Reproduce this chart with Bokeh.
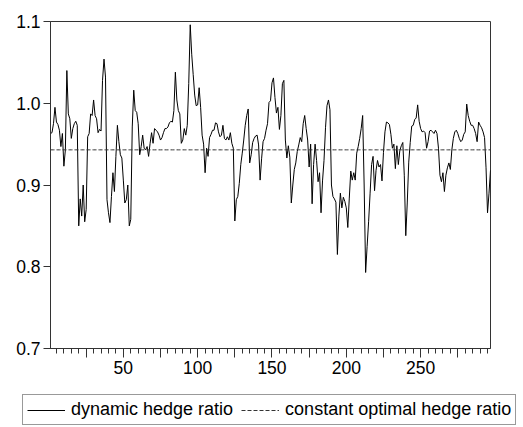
from bokeh.plotting import figure
from bokeh.models import FixedTicker, Range1d, Legend, LegendItem
from bokeh.embed import file_html
from bokeh.resources import INLINE

hedge = [
    0.963, 0.964, 0.975, 0.995, 0.977, 0.974, 0.967, 0.947, 0.963, 0.923,
    0.943, 1.040, 0.987, 0.981, 0.957, 0.969, 0.975, 0.978, 0.973, 0.850,
    0.883, 0.862, 0.900, 0.855, 0.870, 0.959, 0.963, 0.987, 0.985, 1.004,
    0.985, 0.981, 0.964, 0.968, 0.966, 1.028, 1.054, 1.032, 0.882, 0.866,
    0.854, 0.886, 0.915, 0.892, 0.935, 0.973, 0.953, 0.937, 0.933, 0.906,
    0.878, 0.882, 0.900, 0.850, 0.858, 0.971, 1.016, 0.991, 0.989, 0.975,
    0.937, 0.947, 0.961, 0.945, 0.943, 0.947, 0.935, 0.951, 0.964, 0.951,
    0.969, 0.967, 0.965, 0.961, 0.955, 0.958, 0.964, 0.969, 0.969, 0.971,
    0.976, 0.978, 0.977, 0.991, 1.038, 1.004, 0.991, 0.987, 0.951, 0.955,
    0.969, 0.961, 0.973, 1.024, 1.096, 1.060, 1.035, 1.010, 0.997, 0.998,
    1.019, 0.995, 0.961, 0.950, 0.915, 0.945, 0.935, 0.958, 0.962, 0.967,
    0.967, 0.976, 0.975, 0.965, 0.959, 0.961, 0.973, 0.957, 0.955, 0.959,
    0.955, 0.964, 0.951, 0.945, 0.856, 0.882, 0.886, 0.902, 0.925, 0.939,
    0.955, 0.973, 0.985, 0.993, 0.927, 0.937, 0.952, 0.957, 0.960, 0.961,
    0.949, 0.906, 0.932, 0.953, 0.957, 0.967, 0.975, 1.001, 1.003, 1.025,
    1.031, 1.007, 0.988, 0.995, 0.968, 0.985, 1.024, 1.028, 0.955, 0.933,
    0.948, 0.934, 0.878, 0.900, 0.919, 0.927, 0.941, 0.949, 0.958, 0.953,
    0.975, 0.985, 0.969, 0.955, 0.922, 0.950, 0.877, 0.925, 0.950, 0.930,
    0.904, 0.915, 0.866, 0.905, 0.930, 0.970, 0.997, 1.004, 0.992, 0.900,
    0.886, 0.883, 0.879, 0.815, 0.862, 0.890, 0.872, 0.885, 0.880, 0.872,
    0.848, 0.884, 0.917, 0.906, 0.915, 0.906, 0.939, 0.947, 0.957, 0.969,
    0.985, 0.900, 0.793, 0.825, 0.855, 0.890, 0.925, 0.935, 0.893, 0.918,
    0.930, 0.922, 0.925, 0.905, 0.940, 0.965, 0.977, 0.976, 0.974, 0.962,
    0.945, 0.950, 0.920, 0.948, 0.925, 0.942, 0.948, 0.952, 0.912, 0.838,
    0.878, 0.928, 0.952, 0.972, 0.973, 0.980, 0.982, 0.998, 0.978, 0.969,
    0.965, 0.966, 0.964, 0.945, 0.953, 0.966, 0.967, 0.965, 0.963, 0.967,
    0.963, 0.945, 0.912, 0.904, 0.915, 0.892, 0.912, 0.921, 0.927, 0.919,
    0.943, 0.957, 0.965, 0.967, 0.963, 0.957, 0.953, 0.955, 0.962, 0.965,
    0.999, 0.985, 0.978, 0.973, 0.973, 0.969, 0.963, 0.953, 0.977, 0.973,
    0.970, 0.965, 0.958, 0.921, 0.866, 0.890, 0.918,
]
obs = list(range(1, len(hedge) + 1))
const_ratio = 0.943
const_series = [const_ratio for _ in obs]

y_ticks = [0.7, 0.8, 0.9, 1.0, 1.1]
y_labels = ["0.7", "0.8", "0.9", "1.0", "1.1"]
x_major = [25, 50, 75, 100, 125, 150, 175, 200, 225, 250, 275]
x_labels = ["", "50", "", "100", "", "150", "", "200", "", "250", ""]
x_minor = list(range(5, 297, 5))
series_names = ["dynamic hedge ratio", "constant optimal hedge ratio"]

FONT = "Liberation Sans"
DASH = "4 2"

# ---- main chart ----
p = figure(width=523, height=390, output_backend="svg", toolbar_location=None,
           x_range=Range1d(1, len(hedge)), y_range=Range1d(0.7, 1.1),
           min_border_left=50, min_border_right=33, min_border_top=21,
           min_border_bottom=42)
p.background_fill_color = "white"
p.border_fill_color = "white"
p.outline_line_color = "#333333"
p.outline_line_width = 1
p.grid.visible = False

p.line(obs, hedge, line_color="black", line_width=1)
p.line(obs, const_series, line_color="#333333", line_width=1, line_dash=DASH)

p.xaxis.ticker = FixedTicker(ticks=x_major, minor_ticks=x_minor)
p.xaxis.major_label_overrides = {t: l for t, l in zip(x_major, x_labels)}
p.yaxis.ticker = FixedTicker(ticks=y_ticks, minor_ticks=[])
p.yaxis.major_label_overrides = {t: l for t, l in zip(y_ticks, y_labels)}

for ax in (p.xaxis[0], p.yaxis[0]):
    ax.axis_line_color = "#333333"
    ax.major_tick_line_color = "#333333"
    ax.minor_tick_line_color = "#333333"
    ax.major_tick_in = 0
    ax.minor_tick_in = 0
    ax.major_label_text_font = FONT
    ax.major_label_text_font_size = "17.5px"
    ax.major_label_text_color = "black"

p.xaxis.major_tick_out = 9
p.xaxis.minor_tick_out = 5
p.xaxis.major_label_standoff = 3
p.yaxis.major_tick_out = 7
p.yaxis.major_label_standoff = 3

# ---- legend strip: a separate root, series drawn out of view ----
pl = figure(width=523, height=37, output_backend="svg", toolbar_location=None,
            x_range=Range1d(1, len(hedge)), y_range=Range1d(5, 6),
            x_axis_location=None, y_axis_location=None,
            min_border_left=0, min_border_right=0, min_border_top=0,
            min_border_bottom=0)
pl.outline_line_color = None
pl.grid.visible = False
pl.background_fill_color = "white"
pl.border_fill_color = "white"
l1 = pl.line(obs, hedge, line_color="black", line_width=1)
l2 = pl.line(obs, const_series, line_color="#333333", line_width=1, line_dash=DASH)

legend = Legend(items=[
    LegendItem(label=series_names[0], renderers=[l1]),
    LegendItem(label=series_names[1], renderers=[l2]),
], orientation="horizontal", location=(22, 2))
legend.label_text_font = FONT
legend.label_text_font_size = "18px"
legend.label_text_color = "black"
legend.glyph_width = 38
legend.glyph_height = 20
legend.label_height = 20
legend.label_standoff = 6
legend.spacing = 8
legend.padding = 4
legend.margin = 0
legend.border_line_color = "#333333"
legend.border_line_width = 1
legend.background_fill_color = "white"
legend.background_fill_alpha = 1.0
pl.add_layout(legend, "center")

open("out.html", "w").write(file_html([p, pl], INLINE))
